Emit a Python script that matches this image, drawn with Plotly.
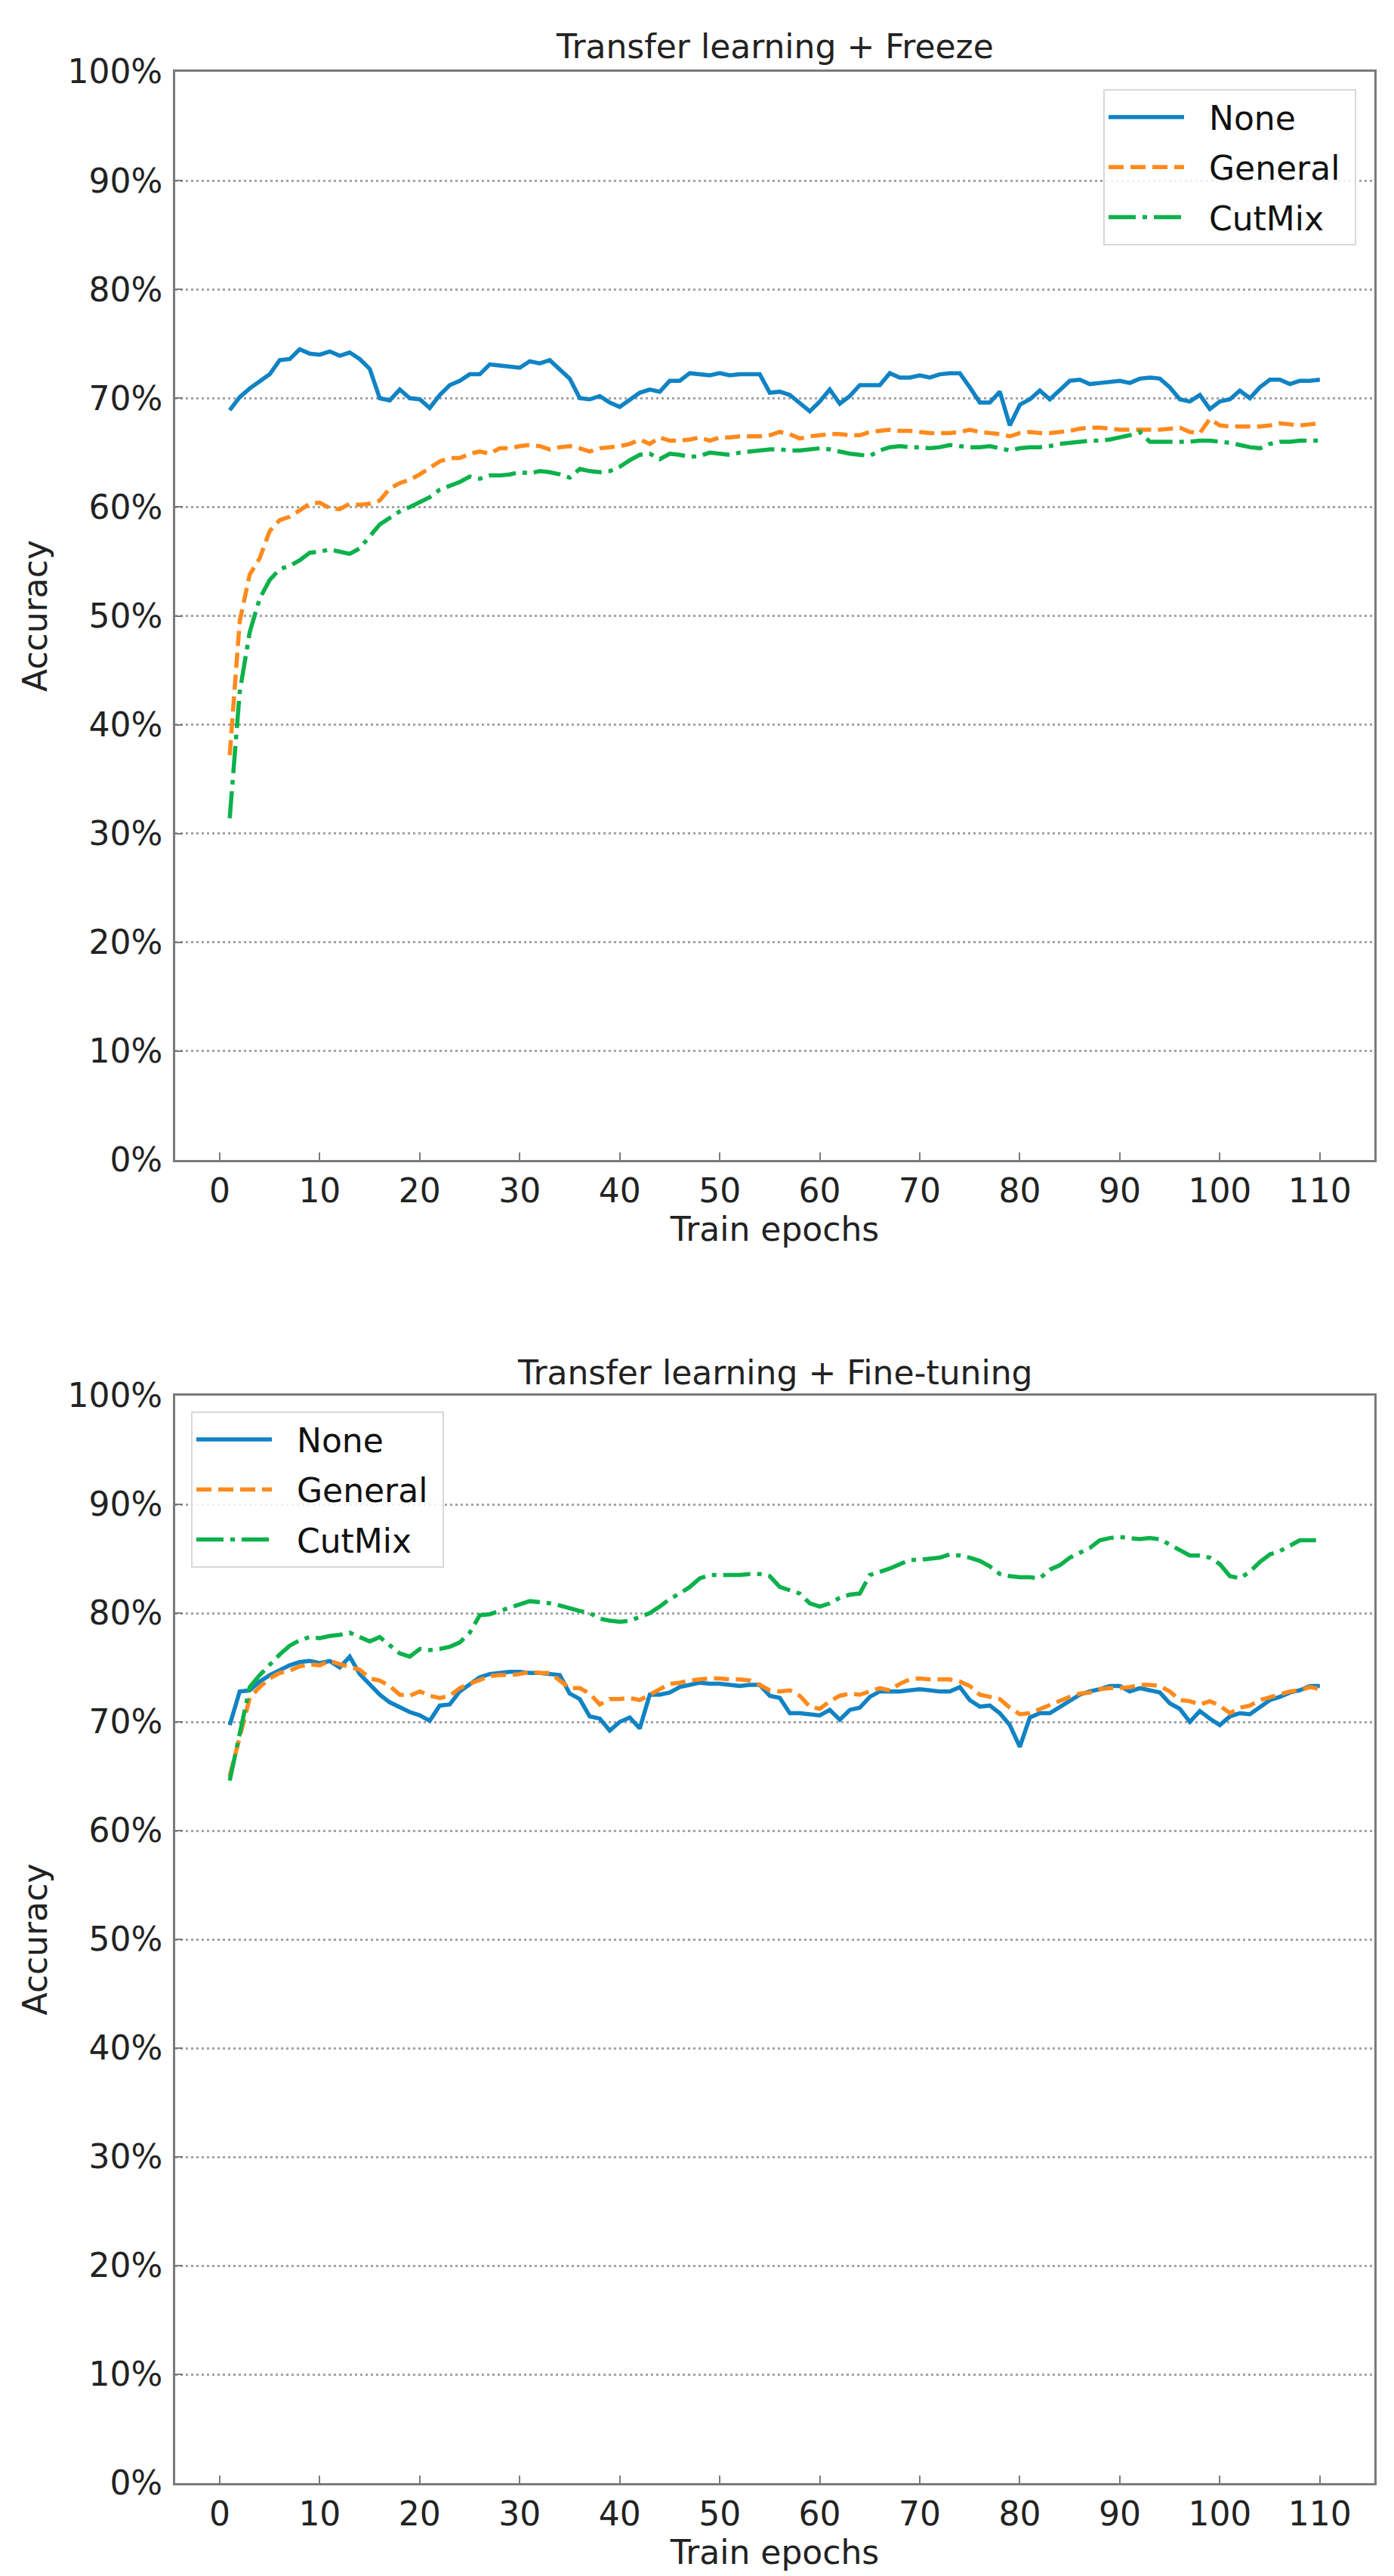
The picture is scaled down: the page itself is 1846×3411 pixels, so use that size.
import plotly.graph_objects as go

# Données (précision en %)
epochs = list(range(1, 111))

freeze_none = [
    68.9, 70.1, 70.9, 71.5, 72.2, 73.5, 73.6, 74.5, 74.1, 74.0,
    74.3, 73.9, 74.2, 73.6, 72.7, 70.0, 69.8, 70.8, 70.0, 69.9,
    69.1, 70.3, 71.2, 71.6, 72.2, 72.2, 73.1, 73.0, 72.9, 72.8,
    73.4, 73.2, 73.5, 72.7, 71.8, 70.0, 69.9, 70.2, 69.6, 69.2,
    69.9, 70.5, 70.8, 70.6, 71.6, 71.6, 72.3, 72.2, 72.1, 72.3,
    72.1, 72.2, 72.2, 72.2, 70.5, 70.6, 70.3, 69.6, 68.8, 69.7,
    70.8, 69.5, 70.2, 71.2, 71.2, 71.2, 72.3, 71.9, 71.9, 72.1,
    71.9, 72.2, 72.3, 72.3, 71.0, 69.6, 69.6, 70.6, 67.5, 69.4,
    69.9, 70.7, 69.9, 70.7, 71.6, 71.7, 71.3, 71.4, 71.5, 71.6,
    71.4, 71.8, 71.9, 71.8, 71.0, 69.9, 69.7, 70.3, 69.0, 69.7,
    69.9, 70.7, 70.0, 71.0, 71.7, 71.7, 71.3, 71.6, 71.6, 71.7,
]
freeze_general = [
    37.2, 49.5, 53.8, 55.3, 57.8, 58.8, 59.1, 59.7, 60.3, 60.4,
    59.9, 59.8, 60.3, 60.2, 60.3, 60.6, 61.7, 62.2, 62.5, 63.0,
    63.6, 64.2, 64.5, 64.5, 64.9, 65.1, 64.9, 65.4, 65.4, 65.6,
    65.7, 65.6, 65.3, 65.5, 65.6, 65.4, 65.1, 65.4, 65.5, 65.6,
    65.8, 66.2, 65.8, 66.4, 66.1, 66.1, 66.2, 66.4, 66.1, 66.4,
    66.4, 66.5, 66.5, 66.5, 66.6, 66.9, 66.7, 66.3, 66.5, 66.6,
    66.7, 66.7, 66.6, 66.6, 66.9, 67.0, 67.1, 67.0, 67.0, 66.9,
    66.8, 66.8, 66.8, 66.9, 67.1, 66.9, 66.8, 66.7, 66.5, 66.8,
    66.9, 66.8, 66.8, 66.9, 67.0, 67.2, 67.3, 67.3, 67.2, 67.1,
    67.1, 67.1, 67.1, 67.1, 67.2, 67.3, 66.9, 66.8, 68.1, 67.5,
    67.4, 67.4, 67.4, 67.4, 67.5, 67.7, 67.6, 67.5, 67.6, 67.7,
]
freeze_cutmix = [
    31.4, 43.0, 48.5, 51.6, 53.3, 54.3, 54.6, 55.1, 55.8, 55.9,
    56.1, 55.9, 55.7, 56.2, 57.3, 58.4, 59.0, 59.6, 60.0, 60.5,
    60.9, 61.6, 61.9, 62.3, 62.8, 62.6, 62.9, 62.9, 63.0, 63.2,
    63.1, 63.3, 63.2, 63.0, 62.7, 63.5, 63.3, 63.2, 63.3, 63.7,
    64.3, 64.8, 64.9, 64.4, 64.9, 64.8, 64.6, 64.7, 65.0, 64.9,
    64.8, 65.0, 65.1, 65.2, 65.3, 65.3, 65.2, 65.2, 65.3, 65.4,
    65.3, 65.1, 64.9, 64.8, 64.7, 65.2, 65.5, 65.6, 65.5, 65.5,
    65.4, 65.5, 65.7, 65.6, 65.5, 65.5, 65.6, 65.4, 65.2, 65.4,
    65.5, 65.5, 65.6, 65.8, 65.9, 66.0, 66.1, 66.1, 66.2, 66.4,
    66.6, 66.9, 66.0, 66.0, 66.0, 66.0, 66.0, 66.1, 66.1, 66.0,
    65.9, 65.7, 65.5, 65.4, 65.8, 66.0, 66.0, 66.1, 66.1, 66.1,
]

finetune_none = [
    69.7, 72.8, 72.9, 73.7, 74.3, 74.8, 75.2, 75.5, 75.6, 75.4,
    75.6, 75.0, 76.0, 74.4, 73.4, 72.5, 71.8, 71.3, 70.9, 70.6,
    70.1, 71.5, 71.6, 72.8, 73.5, 74.1, 74.4, 74.5, 74.6, 74.6,
    74.5, 74.5, 74.4, 74.3, 72.6, 72.1, 70.5, 70.3, 69.2, 70.0,
    70.4, 69.4, 72.5, 72.5, 72.7, 73.2, 73.4, 73.6, 73.5, 73.5,
    73.4, 73.3, 73.4, 73.4, 72.4, 72.2, 70.8, 70.8, 70.7, 70.6,
    71.1, 70.2, 71.1, 71.3, 72.3, 72.8, 72.8, 72.8, 72.9, 73.0,
    72.9, 72.8, 72.8, 73.2, 72.0, 71.4, 71.5, 70.8, 69.7, 67.7,
    70.4, 70.8, 70.8, 71.4, 72.0, 72.5, 72.8, 73.0, 73.3, 73.3,
    72.8, 73.1, 72.9, 72.7, 71.7, 71.2, 70.0, 71.0, 70.3, 69.7,
    70.5, 70.8, 70.7, 71.4, 72.0, 72.3, 72.7, 72.9, 73.3, 73.3,
]
finetune_general = [
    65.0, 68.8, 72.2, 73.2, 74.0, 74.5, 74.7, 75.1, 75.3, 75.2,
    75.6, 75.3, 75.0, 74.8, 74.0, 73.8, 73.3, 72.5, 72.4, 72.8,
    72.4, 72.2, 72.4, 73.1, 73.5, 73.9, 74.2, 74.3, 74.3, 74.4,
    74.6, 74.5, 74.5, 73.8, 73.1, 73.1, 72.6, 71.6, 72.1, 72.1,
    72.2, 72.0, 72.5, 73.0, 73.5, 73.6, 73.8, 73.9, 74.0, 74.0,
    73.9, 73.9, 73.8, 73.4, 72.9, 72.8, 72.9, 72.4, 71.4, 71.2,
    71.9, 72.4, 72.6, 72.5, 72.8, 73.1, 72.9, 73.5, 73.9, 74.0,
    73.9, 73.9, 73.9, 73.7, 73.3, 72.5, 72.3, 72.1, 71.3, 70.7,
    70.8, 71.2, 71.6, 72.0, 72.3, 72.6, 72.7, 73.0, 73.1, 73.1,
    73.2, 73.4, 73.4, 73.3, 72.8, 72.0, 71.9, 71.6, 71.9, 71.5,
    70.8, 71.3, 71.5, 72.0, 72.3, 72.6, 72.8, 72.9, 73.2, 73.0,
]
finetune_cutmix = [
    64.6, 69.1, 73.2, 74.3, 75.3, 76.2, 77.0, 77.5, 77.8, 77.7,
    77.9, 78.0, 78.2, 77.8, 77.4, 77.8, 77.1, 76.3, 76.0, 76.7,
    76.6, 76.7, 76.9, 77.3, 78.2, 79.8, 79.9, 80.2, 80.5, 80.7,
    81.1, 81.0, 80.9, 80.7, 80.4, 80.2, 80.0, 79.5, 79.3, 79.2,
    79.3, 79.7, 80.0, 80.6, 81.3, 81.8, 82.4, 83.2, 83.5, 83.5,
    83.5, 83.5, 83.6, 83.6, 83.4, 82.4, 82.1, 81.8, 80.9, 80.6,
    80.9, 81.4, 81.7, 81.8, 83.5, 83.8, 84.1, 84.5, 84.9, 84.9,
    85.0, 85.1, 85.4, 85.3, 85.1, 84.8, 84.3, 83.6, 83.4, 83.3,
    83.3, 83.2, 84.0, 84.4, 85.1, 85.5, 86.0, 86.7, 86.9, 87.0,
    86.9, 86.8, 86.9, 86.8, 86.3, 85.8, 85.3, 85.3, 85.1, 84.5,
    83.4, 83.2, 83.8, 84.7, 85.4, 85.7, 86.2, 86.7, 86.7, 86.7,
]

series_names = ["None", "General", "CutMix"]
panel_titles = ["Transfer learning + Freeze", "Transfer learning + Fine-tuning"]
x_ticks = list(range(0, 111, 10))
y_ticks = list(range(0, 101, 10))
y_ticklabels = [f"{v}%" for v in y_ticks]

colors = ["#1183c4", "#ff8a1c", "#0db14b"]
dashes = ["solid", "20px,9px", "36px,9px,6px,9px"]
FONT = "DejaVu Sans"

W, H = 1846, 3411
ML, MR, MT, MB = 224, 34, 87, 131
PH = H - MT - MB


def py(p):
    # position pixel verticale -> coordonnée papier
    return 1 - (p - MT) / PH


fig = go.Figure()

panels = [
    (freeze_none, freeze_general, freeze_cutmix),
    (finetune_none, finetune_general, finetune_cutmix),
]
for i, panel in enumerate(panels):
    sfx = "" if i == 0 else "2"
    for name, vals, col, dash in zip(series_names, panel, colors, dashes):
        fig.add_trace(go.Scatter(
            x=epochs, y=vals, name="\u00a0\u00a0" + name + "\u00a0", mode="lines",
            line=dict(color=col, width=5.5, dash=dash),
            xaxis="x" + sfx, yaxis="y" + sfx,
            legend="legend" + sfx, legendgroup=name + sfx,
        ))

axis_common = dict(
    showline=True, linecolor="#7a7a7a", linewidth=3, mirror=True,
    ticks="inside", ticklen=10, tickwidth=2, tickcolor="#7a7a7a",
    tickfont=dict(family=FONT, size=44, color="#222"),
    zeroline=False,
)
xaxis = dict(axis_common, range=[-4.45, 115.45], tickvals=x_ticks,
             showgrid=False,
             title=dict(text="Train epochs", standoff=0,
                        font=dict(family=FONT, size=44, color="#222")))
yaxis = dict(axis_common, range=[0, 100], tickvals=y_ticks,
             ticktext=y_ticklabels, ticklabelstandoff=5,
             showgrid=True, gridcolor="#a3a3a3", gridwidth=2.5,
             griddash="3px,4px",
             title=dict(text="Accuracy", standoff=14,
                        font=dict(family=FONT, size=44, color="#222")))

top_dom = [py(1528), 1]
bot_dom = [0, py(1840)]

legend_common = dict(
    font=dict(family=FONT, size=44, color="#111"),
    bgcolor="rgba(255,255,255,0.85)", bordercolor="#d8d8d8", borderwidth=2,
    itemwidth=100, tracegroupgap=6, traceorder="grouped",
)

fig.update_layout(
    width=W, height=H,
    margin=dict(l=ML, r=MR, t=MT, b=MB),
    paper_bgcolor="white", plot_bgcolor="white",
    showlegend=True,
    xaxis=dict(xaxis, anchor="y"),
    yaxis=dict(yaxis, domain=top_dom, anchor="x"),
    xaxis2=dict(xaxis, anchor="y2"),
    yaxis2=dict(yaxis, domain=bot_dom, anchor="x2"),
    legend=dict(legend_common, x=(1788 - ML) / (W - ML - MR), xanchor="right",
                y=py(110), yanchor="top"),
    legend2=dict(legend_common, x=(245 - ML) / (W - ML - MR), xanchor="left",
                 y=py(1861), yanchor="top"),
)

for t, ypix in zip(panel_titles, [53, 1809]):
    fig.add_annotation(text=t, xref="paper", yref="paper", x=0.5, y=py(ypix),
                       xanchor="center", yanchor="middle", showarrow=False,
                       font=dict(family=FONT, size=44, color="#222"))

fig.write_html("out.html")
